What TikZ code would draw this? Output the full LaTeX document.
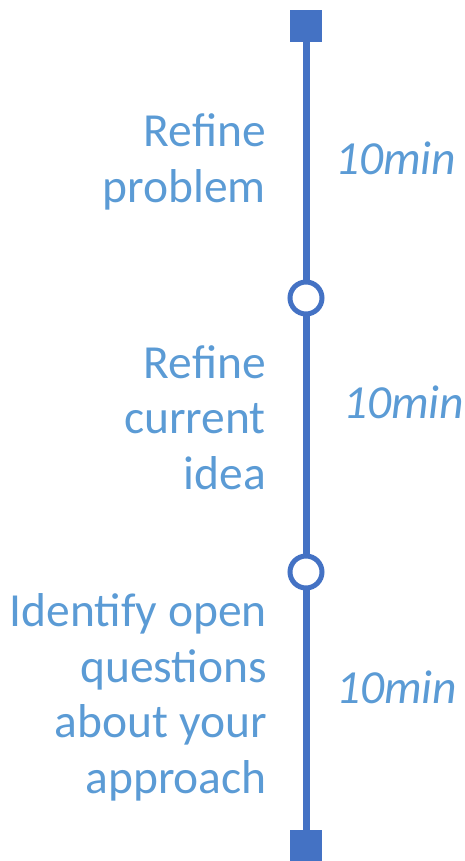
\documentclass[tikz,border=0pt]{standalone}
\usepackage{fontspec}
\setmainfont{Carlito}
\definecolor{linkblue}{HTML}{4472C4}
\definecolor{textblue}{HTML}{5B9BD5}
\begin{document}
\begin{tikzpicture}[x=1pt,y=-1pt,
  endsq/.style={rectangle,fill=linkblue,minimum size=32pt,inner sep=0pt,outer sep=0pt},
  milestone/.style={circle,draw=linkblue,line width=5pt,fill=white,minimum size=32pt,inner sep=0pt,outer sep=0pt},
  track/.style={draw=linkblue,line width=7pt},
  phase/.style={anchor=base east,align=right,inner sep=0pt,text=textblue,font=\fontsize{47.5}{55.5}\selectfont},
  dur/.style={anchor=base west,inner sep=0pt,text=textblue,font=\fontsize{47.5}{55}\selectfont\itshape}]
\useasboundingbox (0,0) rectangle (464,861);
% timeline markers
\node[endsq] (top) at (306,26) {};
\node[milestone] (m1) at (306,298) {};
\node[milestone] (m2) at (306,572) {};
\node[endsq] (bot) at (306,845.5) {};
% track segments
\path[track] (top.south) -- (m1.north);
\path[track] (m1.south) -- (m2.north);
\path[track] (m2.south) -- (bot.north);
% phase labels (anchored on the baseline of the last line)
\node[phase] (p1) at (266,202) {Refine\\problem};
\node[phase] (p2) at (266,489) {Refine\\current\\idea};
\node[phase] (p3) at (267,793) {Identify open\\questions\\about your\\approach};
% durations
\node[dur] (d1) at (335,175) {10min};
\node[dur] (d2) at (343,418) {10min};
\node[dur] (d3) at (336,703) {10min};
\end{tikzpicture}
\end{document}
